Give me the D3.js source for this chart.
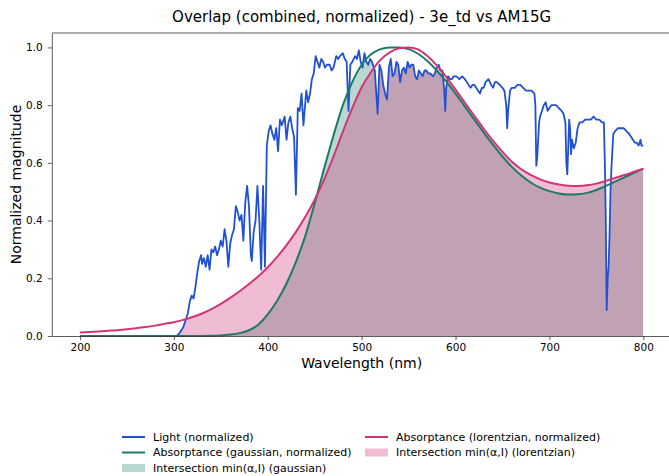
<!DOCTYPE html>
<html>
<head>
<meta charset="utf-8">
<script src="https://cdn.jsdelivr.net/npm/d3@7"></script>
<style>
  body { margin: 0; background: #fff; }
  text { font-family: "DejaVu Sans", sans-serif; fill: #000; }
</style>
</head>
<body>
<div id="chart"></div>
<script>
// Light spectrum (AM15G, normalized)
const lightNm = [303,306,310,313,315,317,319,321,323,325,327,329,330,332,334,336,338,340,342,344,346,348,350,352,354,356,358,360,362,364,366,368,370,372,374,376,378,380,382,383,385,387,389,391,393,395,397,399,401,403,405,407,409,411,413,415,418,420,422,424,426,428,430,432,434,436,438,441,443,445,447,449,451,453,455,457,459,461,463,466,468,470,473,475,477,480,482,484,486,488,490,493,495,497,499,501,503,505,507,509,511,514,517,519,521,523,525,527,529,531,533,535,537,539,541,543,545,547,549,551,553,555,557,559,561,563,565,567,569,571,573,576,578,580,582,584,586,588,589,590,592,594,596,598,601,604,607,610,612,614,616,618,620,622,624,626,628,630,632,635,638,640,642,644,647,650,652,654,655,656,658,660,663,666,669,672,675,678,681,684,685,686,687,689,690,692,694,696,698,700,702,704,707,710,713,715,717,718,719,720,721,722,723,724,726,728,730,732,735,738,741,744,747,750,753,756,758,759,760,761,762,763,764,765,766,768,770,773,776,779,782,785,787,789,791,793,795,797,798,800];
const lightVal = [0.00,0.01,0.03,0.06,0.08,0.12,0.14,0.13,0.17,0.22,0.26,0.28,0.25,0.27,0.24,0.28,0.23,0.30,0.29,0.31,0.28,0.30,0.33,0.31,0.37,0.33,0.24,0.32,0.35,0.37,0.45,0.43,0.40,0.42,0.33,0.46,0.52,0.45,0.28,0.26,0.36,0.40,0.52,0.40,0.23,0.52,0.24,0.66,0.71,0.73,0.70,0.68,0.72,0.64,0.75,0.73,0.76,0.68,0.74,0.76,0.72,0.69,0.49,0.79,0.78,0.84,0.73,0.85,0.81,0.84,0.89,0.91,0.97,0.95,0.93,0.96,0.95,0.93,0.94,0.94,0.92,0.93,0.97,0.96,0.97,0.98,0.96,0.95,0.78,0.94,0.95,0.97,0.96,0.99,0.95,0.93,0.98,0.95,0.94,0.96,0.95,0.92,0.77,0.94,0.92,0.87,0.84,0.82,0.93,0.96,0.90,0.91,0.95,0.94,0.88,0.92,0.93,0.91,0.95,0.93,0.94,0.94,0.90,0.89,0.92,0.91,0.90,0.92,0.92,0.91,0.91,0.90,0.91,0.93,0.94,0.92,0.92,0.85,0.78,0.86,0.90,0.89,0.89,0.90,0.90,0.89,0.90,0.89,0.88,0.87,0.86,0.87,0.87,0.86,0.85,0.84,0.86,0.86,0.88,0.89,0.87,0.86,0.88,0.88,0.87,0.86,0.85,0.80,0.72,0.78,0.85,0.86,0.86,0.87,0.87,0.86,0.85,0.85,0.85,0.84,0.80,0.59,0.62,0.74,0.76,0.78,0.80,0.81,0.78,0.79,0.80,0.80,0.80,0.79,0.78,0.77,0.74,0.60,0.56,0.65,0.75,0.72,0.63,0.68,0.65,0.67,0.72,0.74,0.74,0.75,0.75,0.75,0.76,0.75,0.75,0.74,0.74,0.60,0.41,0.09,0.20,0.24,0.35,0.50,0.58,0.70,0.71,0.72,0.72,0.72,0.71,0.70,0.69,0.68,0.67,0.67,0.66,0.68,0.66,0.66];

// Absorptance curves, every 10 nm from 200 to 800
const absNm = d3.range(200, 801, 10);
const gaussVal = [0,0,0,0,0,0,0,0,0,0,0,0,0,0,0.001,0.002,0.005,0.010,0.020,0.040,0.075,0.122,0.182,0.257,0.347,0.46,0.58,0.695,0.80,0.88,0.94,0.976,0.994,1.0,1.0,0.994,0.978,0.953,0.92,0.882,0.84,0.795,0.75,0.705,0.662,0.622,0.586,0.556,0.532,0.514,0.502,0.494,0.49,0.491,0.496,0.506,0.52,0.535,0.55,0.565,0.58];
const lorentzVal = [0.012,0.014,0.016,0.018,0.02,0.023,0.027,0.031,0.036,0.042,0.048,0.056,0.066,0.078,0.093,0.111,0.132,0.155,0.18,0.207,0.238,0.274,0.315,0.361,0.413,0.472,0.542,0.622,0.708,0.79,0.862,0.915,0.957,0.983,0.997,1.0,0.993,0.97,0.938,0.898,0.854,0.808,0.763,0.718,0.676,0.638,0.604,0.578,0.558,0.543,0.532,0.525,0.521,0.52,0.522,0.528,0.537,0.548,0.558,0.569,0.58];

const xTicks = [200, 300, 400, 500, 600, 700, 800];
const yTicks = [0.0, 0.2, 0.4, 0.6, 0.8, 1.0];

const width = 669;
const height = 476;
const blue = "#2150d4", teal = "#1b7b67", pink = "#d23478";

const svg = d3.select("#chart")
  .append("svg")
  .attr("width", width)
  .attr("height", height);

const x = d3.scaleLinear().domain([170, 830]).range([51.8, 671.5]);
const y = d3.scaleLinear().domain([0, 1.05]).range([336, 33]);

const light = lightNm.map((d, i) => ({ x: d, y: lightVal[i] }));
const gauss = absNm.map((d, i) => ({ x: d, y: gaussVal[i] }));
const lorentz = absNm.map((d, i) => ({ x: d, y: lorentzVal[i] }));

// area under the light curve, used to clip fills -> min(alpha, light)
svg.append("clipPath")
  .attr("id", "under-light")
  .append("path")
  .attr("d", d3.area().x(d => x(d.x)).y0(y(0)).y1(d => y(d.y))(light));

const smoothArea = d3.area().curve(d3.curveMonotoneX)
  .x(d => x(d.x)).y0(y(0)).y1(d => y(d.y));
const smoothLine = d3.line().curve(d3.curveMonotoneX)
  .x(d => x(d.x)).y(d => y(d.y));

const fills = svg.append("g").attr("clip-path", "url(#under-light)");
fills.append("path")
  .attr("d", smoothArea(gauss))
  .attr("fill", teal)
  .attr("fill-opacity", 0.3);
fills.append("path")
  .attr("d", smoothArea(lorentz))
  .attr("fill", pink)
  .attr("fill-opacity", 0.33);

// lines
svg.append("path")
  .attr("d", d3.line().x(d => x(d.x)).y(d => y(d.y))(light))
  .attr("fill", "none")
  .attr("stroke", blue)
  .attr("stroke-width", 1.8)
  .attr("stroke-linejoin", "round");
svg.append("path")
  .attr("d", smoothLine(gauss))
  .attr("fill", "none")
  .attr("stroke", teal)
  .attr("stroke-width", 2);
svg.append("path")
  .attr("d", smoothLine(lorentz))
  .attr("fill", "none")
  .attr("stroke", pink)
  .attr("stroke-width", 2);

// axes
const xAxis = svg.append("g")
  .attr("transform", `translate(0,${y(0)})`)
  .call(d3.axisBottom(x).tickValues(xTicks).tickSize(4).tickPadding(4).tickSizeOuter(0));
const yAxis = svg.append("g")
  .attr("transform", `translate(${x(170)},0)`)
  .call(d3.axisLeft(y).tickValues(yTicks).tickFormat(d3.format(".1f")).tickSize(4).tickPadding(5).tickSizeOuter(0));
[xAxis, yAxis].forEach(a => {
  a.selectAll("text").attr("font-size", "10.5px").attr("font-family", "DejaVu Sans");
  a.selectAll("line").attr("stroke", "#333").attr("stroke-width", 0.8);
  a.select(".domain").attr("stroke", "#333").attr("stroke-width", 0.8);
});

// top and right spines
svg.append("line")
  .attr("x1", x(170)).attr("x2", x(830))
  .attr("y1", y(1.05)).attr("y2", y(1.05))
  .attr("stroke", "#333").attr("stroke-width", 0.8);
svg.append("line")
  .attr("x1", x(830)).attr("x2", x(830))
  .attr("y1", y(1.05)).attr("y2", y(0))
  .attr("stroke", "#333").attr("stroke-width", 0.8);

// title and labels
svg.append("text")
  .attr("x", (x(170) + x(830)) / 2)
  .attr("y", 22)
  .attr("text-anchor", "middle")
  .attr("font-size", "15px")
  .text("Overlap (combined, normalized) - 3e_td vs AM15G");
svg.append("text")
  .attr("x", (x(170) + x(830)) / 2)
  .attr("y", 368)
  .attr("text-anchor", "middle")
  .attr("font-size", "14px")
  .text("Wavelength (nm)");
svg.append("text")
  .attr("transform", `translate(21,${(y(0) + y(1.05)) / 2}) rotate(-90)`)
  .attr("text-anchor", "middle")
  .attr("font-size", "14px")
  .text("Normalized magnitude");

// legend, two columns
const legendItems = [
  { label: "Light (normalized)", type: "line", color: blue, col: 0, row: 0 },
  { label: "Absorptance (gaussian, normalized)", type: "line", color: teal, col: 0, row: 1 },
  { label: "Intersection min(\u03b1,I) (gaussian)", type: "patch", color: teal, op: 0.3, col: 0, row: 2 },
  { label: "Absorptance (lorentzian, normalized)", type: "line", color: pink, col: 1, row: 0 },
  { label: "Intersection min(\u03b1,I) (lorentzian)", type: "patch", color: pink, op: 0.33, col: 1, row: 1 }
];
const colX = [122, 365];
const rowY = [437, 452.5, 468];

const legend = svg.append("g");
legendItems.forEach(d => {
  const lx = colX[d.col], ly = rowY[d.row];
  if (d.type === "line") {
    legend.append("line")
      .attr("x1", lx).attr("x2", lx + 23)
      .attr("y1", ly).attr("y2", ly)
      .attr("stroke", d.color).attr("stroke-width", 2);
  } else {
    legend.append("rect")
      .attr("x", lx).attr("y", ly - 4)
      .attr("width", 23).attr("height", 8)
      .attr("fill", d.color).attr("fill-opacity", d.op);
  }
  legend.append("text")
    .attr("x", lx + 31)
    .attr("y", ly)
    .attr("dy", "0.35em")
    .attr("font-size", "11px")
    .text(d.label);
});
</script>
</body>
</html>
